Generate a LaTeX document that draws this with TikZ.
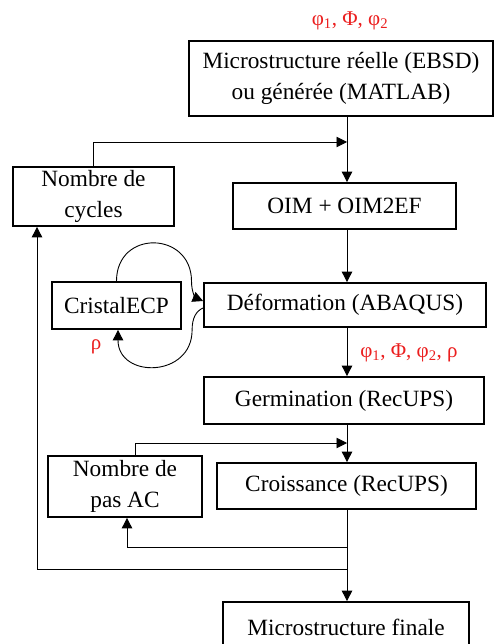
\documentclass[tikz,border=0pt]{standalone}
\usepackage{fontspec}
\setmainfont{Liberation Serif}
\usetikzlibrary{arrows.meta,calc}
\definecolor{angred}{RGB}{235,30,30}

\begin{document}
\begin{tikzpicture}[x=1pt, y=-1pt, >={Triangle[length=10.5pt,width=10.5pt]},
    box/.style={draw, line width=1.8pt, inner sep=0pt, align=center, font=\fontsize{23.3}{31}\selectfont},
    link/.style={->, line width=0.9pt},
    angles/.style={text=angred, inner sep=0pt, font=\fontsize{21}{24}\selectfont}]
    \useasboundingbox (0,0) rectangle (494,644);

    % Boxes of the chain
    \node[box, minimum width=304pt, minimum height=75pt] (micro) at (341,78.5) {Microstructure réelle (EBSD)\\ou générée (MATLAB)};
    \node[box, minimum width=223pt, minimum height=46pt] (oim) at (344.5,206) {OIM + OIM2EF};
    \node[box, minimum width=282pt, minimum height=44pt] (deform) at (345,305) {Déformation (ABAQUS)};
    \node[box, minimum width=280pt, minimum height=47pt] (germ) at (344,400.5) {Germination (RecUPS)};
    \node[box, minimum width=259pt, minimum height=46pt] (crois) at (346.5,486) {Croissance (RecUPS)};
    \node[box, minimum width=246pt, minimum height=50pt] (final) at (346,627) {Microstructure finale};

    % Side boxes
    \node[box, minimum width=161pt, minimum height=59pt] (cycles) at (93.5,196.5) {Nombre de\\cycles};
    \node[box, minimum width=129pt, minimum height=47pt] (cristal) at (116.5,305.5) {CristalECP};
    \node[box, minimum width=154pt, minimum height=61pt] (pasac) at (125,486.5) {Nombre de\\pas AC};

    % Red labels
    \node[angles] (angtop) at (350,21) {φ\textsubscript{1}, Φ, φ\textsubscript{2}};
    \node[angles] (angmid) at (409,353) {φ\textsubscript{1}, Φ, φ\textsubscript{2}, ρ};
    \node[angles] (rho) at (96,347) {ρ};

    % Junctions on the main line
    \coordinate (jtop) at (347,142);
    \coordinate (jac) at (347,443);
    \coordinate (jloop) at (347,547);
    \coordinate (jcyc) at (347,569);
    \coordinate (cycback) at (37,569);

    % Main line
    \draw[link] (micro.south -| jtop) -- (oim.north -| jtop);
    \draw[link] (oim.south -| jtop) -- (deform.north -| jtop);
    \draw[link] (deform.south -| jtop) -- (germ.north -| jtop);
    \draw[link] (germ.south -| jtop) -- (crois.north -| jtop);
    \draw[link] (crois.south -| jtop) -- (final.north -| jtop);

    % Loops back
    \draw[link] (cycles.north) |- (jtop);
    \draw[link] ([xshift=10pt]pasac.north) |- (jac);
    \draw[link] (jloop) -| ([xshift=2pt]pasac.south);
    \draw[link] (jcyc) -- (cycback) -- (cycback |- cycles.south);

    % CristalECP coupling
    \draw[link] (cristal.north) .. controls +(0,-52) and +(0,-50) .. ++(75,0)
        .. controls +(0,12) and +(-7,-3) .. ([yshift=4pt]deform.west);
    \draw[link] ([yshift=-3pt]deform.west) .. controls +(-7,3) and +(0,-12) .. ++(-11,22)
        .. controls +(0,48) and +(0,49) .. ([xshift=1.5pt]cristal.south);
\end{tikzpicture}
\end{document}
